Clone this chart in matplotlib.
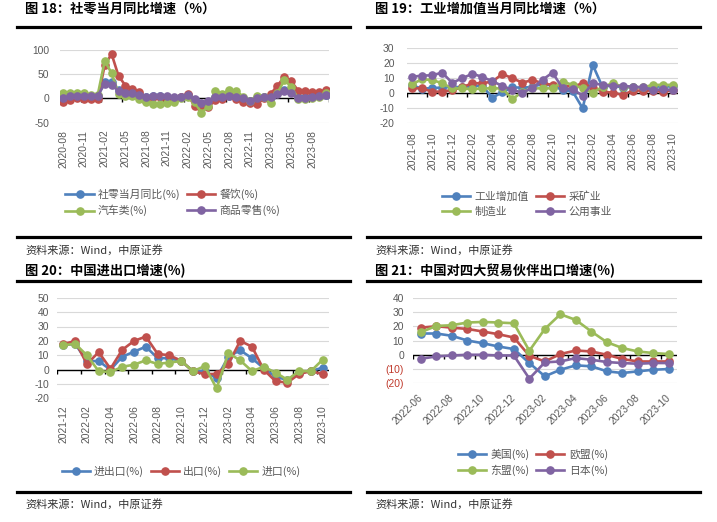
import numpy as np
import pandas as pd
import matplotlib
matplotlib.use("Agg")
import matplotlib.pyplot as plt
from matplotlib.lines import Line2D

W, H = 717, 522
plt.rcParams['font.family'] = ['Noto Sans CJK SC', 'DejaVu Sans']

COLORS = ['#4F81BD', '#C0504D', '#9BBB59', '#8064A2']
GRAY = '#595959'
CJK = ['Noto Sans CJK SC', 'DejaVu Sans']

# ---- chart 18: retail sales yoy ----
months_18 = list(pd.period_range('2020-08', '2023-10', freq='M').strftime('%Y-%m'))
retail = [0.5, 3.3, 4.3, 5.0, 4.6, 5.0, 33.8, 34.2, 17.7, 12.4, 12.1, 8.5, 2.5, 4.4, 4.9,
          3.9, 1.7, 4.0, 6.7, -3.5, -11.1, -6.7, 3.1, 2.7, 5.4, 2.5, -0.5, -5.9, -1.8, 2.0,
          3.5, 10.6, 18.4, 12.7, 3.1, 2.5, 4.6, 5.5, 7.6]
catering = [-7.0, -2.9, 0.8, -0.6, -1.9, -1.0, 68.9, 91.6, 46.4, 26.6, 20.2, 14.3, -4.5, 3.1, 2.0,
            -2.7, -2.2, 3.0, 8.9, -16.0, -20.0, -17.0, -4.0, -1.5, 8.4, -1.7, -8.1, -8.4, -12.0, 0.0,
            9.2, 26.3, 45.0, 35.1, 16.1, 15.8, 12.4, 13.8, 17.1]
auto = [11.8, 11.3, 12.0, 11.8, 6.4, 8.0, 77.6, 52.0, 10.1, 4.7, 4.7, -1.8, -7.4, -11.3, -12.3,
        -9.8, -7.4, 0.0, 3.3, -7.5, -29.5, -16.0, 15.0, 9.7, 17.0, 16.0, 3.9, -4.2, 4.6, 2.0,
        -9.4, 11.5, 38.0, 24.2, -1.1, -1.5, 1.1, 2.8, 11.4]
goods = [1.6, 4.1, 4.9, 5.8, 5.4, 6.0, 30.7, 28.6, 15.1, 10.9, 11.1, 7.9, 3.3, 4.5, 5.3,
         4.7, 2.1, 4.0, 6.5, -2.1, -9.7, -5.0, 3.9, 3.2, 5.1, 2.9, 0.5, -5.6, 0.0, 2.0,
         2.9, 9.1, 15.9, 10.5, 1.7, 1.0, 3.7, 4.6, 6.5]
labels_18 = ['社零当月同比(%)', '餐饮(%)', '汽车类(%)', '商品零售(%)']

# ---- chart 19: industrial value added yoy ----
months_19 = list(pd.period_range('2021-08', '2023-10', freq='M').strftime('%Y-%m'))
iva = [5.3, 3.1, 3.5, 3.8, 4.3, 4.0, 5.0, 5.0, -2.9, 0.7, 3.9, 3.8, 4.2, 6.3, 5.0,
       2.2, 1.3, -10.0, 19.0, 3.9, 5.6, 3.5, 4.4, 3.7, 4.5, 4.5, 4.6]
mining = [3.3, 3.3, 1.1, 1.1, 2.2, 4.0, 6.7, 6.7, 7.8, 12.9, 10.0, 7.1, 8.9, 6.7, 5.6,
          5.0, 4.4, 6.7, 3.8, 1.1, 0.4, -1.1, 1.8, 1.8, 1.8, 1.1, 2.2]
manuf = [6.2, 9.3, 8.9, 6.7, 3.3, 3.3, 2.7, 3.3, 3.3, 3.3, -4.0, 1.1, 3.3, 3.3, 3.3,
         7.8, 5.6, 3.3, 0.4, 4.4, 6.7, 4.4, 4.0, 4.0, 5.6, 5.6, 5.6]
utility = [11.0, 11.8, 12.0, 13.8, 7.0, 10.0, 13.0, 11.0, 8.0, 5.0, 2.2, 0.5, 3.5, 9.0, 13.8,
           3.3, 2.7, -1.5, 6.7, 5.6, 4.9, 4.9, 4.4, 4.0, 2.2, 2.7, 2.2]
labels_19 = ['工业增加值', '采矿业', '制造业', '公用事业']

# ---- chart 20: trade growth ----
months_20 = list(pd.period_range('2021-12', '2023-10', freq='M').strftime('%Y-%m'))
trade_total = [17.0, 18.0, 6.0, 6.0, 0.0, 9.0, 12.5, 16.0, 8.0, 8.0, 6.0, -1.0, -1.0, -6.0, 9.0,
               13.5, 8.0, 1.0, -5.0, -7.0, -2.0, -1.0, 1.5]
exports = [17.7, 20.0, 3.9, 12.2, 0.7, 13.8, 20.0, 23.0, 11.0, 10.0, 6.2, -1.2, -3.0, -3.0, 4.0,
           20.0, 16.0, 0.0, -8.0, -9.0, -3.0, -1.0, -3.0]
imports = [17.0, 18.0, 10.0, -1.0, -1.6, 2.0, 3.5, 6.5, 4.0, 5.0, 6.0, -1.0, 2.5, -13.0, 11.5,
           6.5, -1.0, 2.0, -2.0, -7.0, -1.0, -1.0, 7.0]
labels_20 = ['进出口(%)', '出口(%)', '进口(%)']

# ---- chart 21: exports to main partners ----
months_21 = list(pd.period_range('2022-06', '2023-10', freq='M').strftime('%Y-%m'))
us = [14.9, 14.9, 13.3, 10.0, 8.1, 5.8, 4.0, -5.8, -15.1, -10.5, -7.4, -8.1, -11.6, -12.8, -11.6, -10.5, -10.0]
eu = [19.0, 20.0, 19.0, 18.1, 16.3, 14.4, 12.1, -0.7, -4.7, 0.5, 3.0, 2.3, 0.0, -3.0, -4.7, -4.7, -4.7]
asean = [15.8, 20.2, 20.7, 22.6, 23.0, 22.6, 22.1, 2.8, 18.1, 28.4, 24.4, 16.3, 8.8, 4.7, 2.3, 1.2, 0.5]
japan = [-2.8, -1.2, -0.5, 0.0, 0.0, -0.5, -0.5, -16.7, -5.3, -4.7, -2.3, -3.5, -5.1, -5.8, -6.3, -5.8, -5.8]
labels_21 = ['美国(%)', '欧盟(%)', '东盟(%)', '日本(%)']

fig = plt.figure(figsize=(W / 100, H / 100), dpi=100)


def px_axes(left, top, right, bottom):
    return fig.add_axes([left / W, 1 - bottom / H, (right - left) / W, (bottom - top) / H])


def draw_panel(ax, cats, series, ylim, ystep, step, ypad, xpad, rot=90, paren=False, ms=5.2):
    x = np.arange(len(cats))
    for vals, c in zip(series, COLORS):
        ax.plot(x, vals, color=c, lw=1.9, marker='o', ms=ms, mec=c, mfc=c, zorder=3)
    ax.set_xlim(-0.5, len(cats) - 0.5)
    ax.set_ylim(*ylim)
    yt = np.arange(ylim[0], ylim[1] + 1, ystep)
    if paren:
        ylabs = [f'({-v})' if v < 0 else str(v) for v in yt]
    else:
        ylabs = [str(v) for v in yt]
    ax.set_yticks(yt, labels=ylabs, fontfamily='Liberation Sans', fontsize=7.4)
    if paren:
        for t, v in zip(ax.get_yticklabels(), yt):
            t.set_color('#C0392B' if v < 0 else GRAY)
    ax.grid(axis='y', color='#D9D9D9', lw=0.8)
    ax.set_axisbelow(True)
    for s in ax.spines.values():
        s.set_visible(False)
    ax.axhline(0, color='black', lw=1.0, zorder=1.5)
    # small tick marks hanging under the zero line
    axh = ax.get_position().height * H
    d = (ylim[1] - ylim[0]) * 4.0 / axh
    ax.vlines(np.arange(-0.5, len(cats), step), -d, 0, color='black', lw=1.0, zorder=1.5)
    if rot == 90:
        ax.set_xticks(x[::step], labels=cats[::step], rotation=90,
                      fontfamily='Liberation Sans', fontsize=7.4, color=GRAY)
    else:
        ax.set_xticks(x[::step], labels=cats[::step], rotation=rot, ha='right', va='center',
                      rotation_mode='anchor', fontfamily='Liberation Sans', fontsize=7.4, color=GRAY)
    ax.tick_params(axis='x', length=0, pad=xpad)
    ax.tick_params(axis='y', length=0, pad=ypad, labelcolor=GRAY)
    if paren:
        for t, v in zip(ax.get_yticklabels(), yt):
            t.set_color('#C0392B' if v < 0 else GRAY)


def legend(series_labels, cx, cy, ncol):
    handles = [Line2D([], [], color=c, lw=1.9, marker='o', ms=5.2) for c in COLORS[:len(series_labels)]]
    labs = list(series_labels)
    if ncol == 2:
        order = [0, 2, 1, 3]
        handles = [handles[i] for i in order]
        labs = [labs[i] for i in order]
    fig.legend(handles, labs, loc='center', bbox_to_anchor=(cx / W, 1 - cy / H), ncol=ncol,
               frameon=False, prop={'family': CJK, 'size': 7.8}, labelcolor=GRAY,
               handlelength=2.6, handletextpad=0.4, columnspacing=0.6, labelspacing=0.45)


def frame(x0, x1, y_title, y_top, y_bot, y_src, title):
    fig.text((x0 + 8) / W, 1 - y_title / H, title, fontsize=9.5, fontweight='bold',
             family=CJK, va='center', ha='left')
    for y in (y_top, y_bot):
        fig.add_artist(Line2D([x0 / W, x1 / W], [1 - y / H, 1 - y / H], color='black', lw=2.3))
    fig.text((x0 + 8) / W, 1 - y_src / H, '资料来源：Wind，中原证券', fontsize=8, family=CJK,
             va='center', ha='left', color='#333333')


# chart 18
ax1 = px_axes(59.8, 50, 329.3, 122.7)
draw_panel(ax1, months_18, [retail, catering, auto, goods], (-50, 100), 50, 3, 7.5, 5.0)
frame(17, 350, 9, 27, 237, 250, '图 18：社零当月同比增速（%）')
legend(labels_18, 173, 202.5, 2)

# chart 19
ax2 = px_axes(407, 48.3, 678, 123.3)
draw_panel(ax2, months_19, [iva, mining, manuf, utility], (-20, 30), 10, 2, 9.0, 6.5)
frame(367, 700, 9, 27, 237, 250, '图 19：工业增加值当月同比增速（%）')
legend(labels_19, 527, 204, 2)

# chart 20
ax3 = px_axes(57.4, 297.7, 328.6, 398.5)
draw_panel(ax3, months_20, [trade_total, exports, imports], (-20, 50), 10, 2, 6.0, 4.7)
frame(17, 350, 271, 281, 492, 504, '图 20：中国进出口增速(%)')
legend(labels_20, 181, 471, 3)

# chart 21
ax4 = px_axes(413, 297.7, 676.7, 383.3)
draw_panel(ax4, months_21, [us, eu, asean, japan], (-20, 40), 10, 2, 6.5, 9.0, rot=45, paren=True)
frame(367, 700, 271, 281, 492, 504, '图 21：中国对四大贸易伙伴出口增速(%)')
legend(labels_21, 533, 462.5, 2)

fig.savefig('out.png', dpi=100)
